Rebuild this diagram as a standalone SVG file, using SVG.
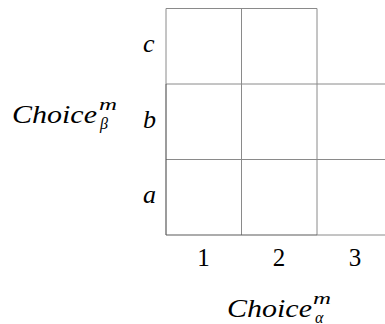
<svg xmlns="http://www.w3.org/2000/svg" width="385" height="324" viewBox="0 0 385 324">
<style>
.g{stroke:#8a8a8a;stroke-width:1;fill:none}
.ax{stroke:#5a5a5a;stroke-width:1.2;fill:none}
text{font-family:"Liberation Serif","Times New Roman",serif;fill:#000}
.i{font-style:italic}
</style>
<rect width="385" height="324" fill="#fff"/>
<g id="grid">
<line class="g" x1="166" y1="8.5" x2="317" y2="8.5"/>
<line class="g" x1="166" y1="84" x2="385" y2="84"/>
<line class="g" x1="166" y1="159.5" x2="385" y2="159.5"/>
<line class="g" x1="241.5" y1="8.5" x2="241.5" y2="235"/>
<line class="g" x1="317" y1="8.5" x2="317" y2="235"/>
<line class="g" x1="317" y1="235" x2="385" y2="235"/>
<line class="g" x1="166" y1="8.5" x2="166" y2="84"/>
<line class="ax" x1="166" y1="84" x2="166" y2="235"/>
<line class="ax" x1="166" y1="235" x2="317" y2="235"/>
</g>
<g id="row-labels" font-size="26">
<text class="i" x="143" y="52">c</text>
<text class="i" x="143" y="128">b</text>
<text class="i" x="143" y="203">a</text>
</g>
<g id="col-labels" font-size="25">
<text x="203.5" y="266" text-anchor="middle">1</text>
<text x="279" y="266" text-anchor="middle">2</text>
<text x="355" y="266" text-anchor="middle">3</text>
</g>
<g id="y-axis-label">
<text class="i" x="12" y="123" font-size="25" textLength="85" lengthAdjust="spacingAndGlyphs">Choice</text>
<text class="i" x="99" y="110" font-size="16" textLength="18" lengthAdjust="spacingAndGlyphs">m</text>
<text class="i" x="100" y="129" font-size="16">β</text>
</g>
<g id="x-axis-label">
<text class="i" x="227" y="317" font-size="25" textLength="85" lengthAdjust="spacingAndGlyphs">Choice</text>
<text class="i" x="313" y="304" font-size="16" textLength="18" lengthAdjust="spacingAndGlyphs">m</text>
<text class="i" x="315" y="323" font-size="16">α</text>
</g>
</svg>
